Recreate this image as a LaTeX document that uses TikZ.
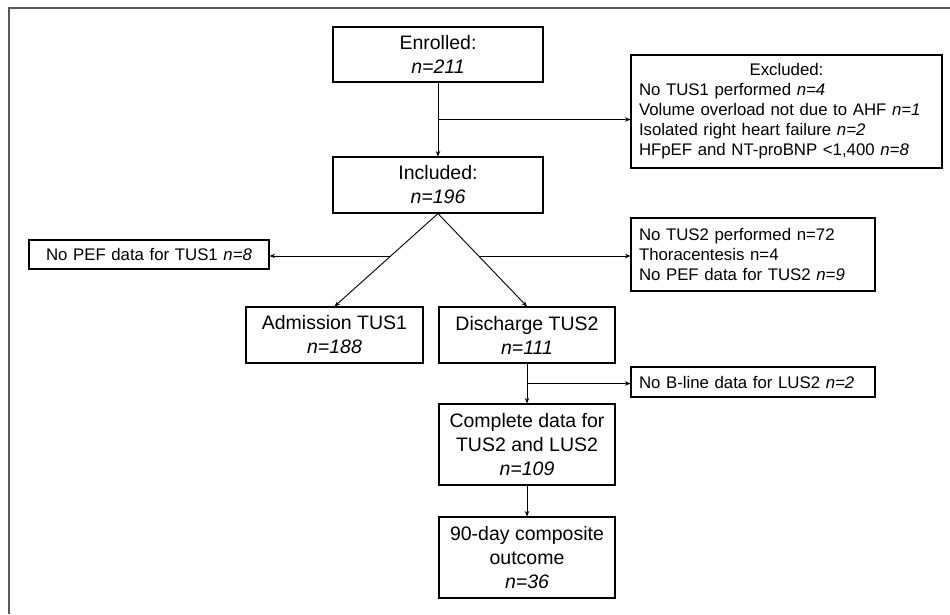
\documentclass[tikz,border=0pt]{standalone}
\usepackage{fontspec}
\setmainfont{Liberation Sans}
\usetikzlibrary{arrows.meta,calc}
\begin{document}
\begin{tikzpicture}[x=1pt,y=-1pt,
  box/.style={draw,line width=1.1pt,inner sep=0pt,align=center,font=\fontsize{19.5}{24}\selectfont},
  note/.style={draw,line width=1.1pt,inner xsep=8pt,inner ysep=0pt,align=left,font=\fontsize{16.8}{20}\selectfont},
  arr/.style={-{Stealth[length=5.5pt,width=4.5pt]},line width=0.9pt},
  frame/.style={line width=2pt,black!65}]
\useasboundingbox (0,0) rectangle (950,614);
\draw[frame] (9,614) -- (9,8) -- (950,8);
% main column
\node[box,minimum width=210pt,minimum height=55pt] (enrolled) at (438,54.5) {Enrolled:\\\textit{n=211}};
\node[box,minimum width=210pt,minimum height=56pt] (included) at (438,185) {Included:\\\textit{n=196}};
\node[box,minimum width=177pt,minimum height=56pt] (admission) at (334.5,335) {Admission TUS1\\\textit{n=188}};
\node[box,minimum width=176pt,minimum height=56pt] (discharge) at (527,335) {Discharge TUS2\\\textit{n=111}};
\node[box,minimum width=176pt,minimum height=81pt] (complete) at (527,444.5) {Complete data for\\TUS2 and LUS2\\\textit{n=109}};
\node[box,minimum width=176pt,minimum height=81pt] (outcome) at (527,557.5) {90-day composite\\outcome\\\textit{n=36}};
% side boxes
\node[note,text width=295pt,minimum height=113pt] (excluded) at (786.5,111.5) {\makebox[295pt]{Excluded:}\\No TUS1 performed \textit{n=4}\\Volume overload not due to AHF \textit{n=1}\\Isolated right heart failure \textit{n=2}\\HFpEF and NT-proBNP <1,400 \textit{n=8}};
\node[note,align=center,text width=224pt,minimum height=29pt] (noPEF1) at (149,254.5) {No PEF data for TUS1 \textit{n=8}};
\node[note,text width=228pt,minimum height=73pt] (noTUS2) at (753,254.5) {No TUS2 performed n=72\\Thoracentesis n=4\\No PEF data for TUS2 \textit{n=9}};
\node[note,text width=228pt,minimum height=30pt] (noBline) at (753,382) {No B-line data for LUS2 \textit{n=2}};
% connectors
\coordinate (b1) at ($(enrolled.south)!0.5!(included.north)$);
\coordinate (b2) at ($(included.south)!0.457!(admission.north)$);
\coordinate (b3) at ($(included.south)!0.457!(discharge.north)$);
\coordinate (b4) at ($(discharge.south)!0.5!(complete.north)$);
\draw[arr] (enrolled) -- (included);
\draw[arr] (b1) -- (b1 -| excluded.west);
\draw[arr] (included.south) -- (admission.north);
\draw[arr] (included.south) -- (discharge.north);
\draw[arr] (b2) -- (b2 -| noPEF1.east);
\draw[arr] (b3) -- (b3 -| noTUS2.west);
\draw[arr] (discharge) -- (complete);
\draw[arr] (b4) -- (b4 -| noBline.west);
\draw[arr] (complete) -- (outcome);
\end{tikzpicture}
\end{document}
